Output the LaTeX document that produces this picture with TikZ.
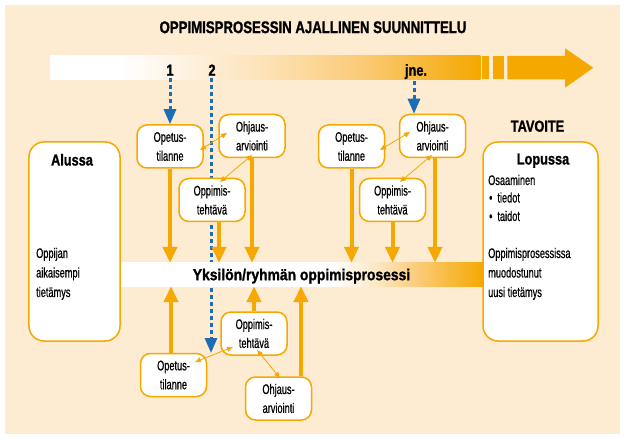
\documentclass[tikz,border=0pt]{standalone}
\usepackage{fontspec}
\setmainfont{Liberation Sans}
\newfontfamily\bodyf[FakeStretch=0.66,FakeBold=0.6]{Liberation Sans}
\newfontfamily\headf[FakeStretch=0.8,FakeBold=1.2]{Liberation Sans}
\newfontfamily\titlef[FakeStretch=0.78,FakeBold=1.2]{Liberation Sans}
\newfontfamily\procf[FakeStretch=0.87,FakeBold=1.2]{Liberation Sans}
\usetikzlibrary{arrows.meta,calc,backgrounds}
\definecolor{bgc}{RGB}{253,235,210}
\definecolor{org}{RGB}{245,168,0}
\definecolor{blu}{RGB}{27,109,181}
\definecolor{pk0}{RGB}{254,243,228}
\definecolor{pk1}{RGB}{253,226,182}
\definecolor{pk2}{RGB}{251,203,120}
\definecolor{pk3}{RGB}{253,232,200}
\pgfdeclarehorizontalshading{topbarsh}{100bp}{color(0bp)=(white); color(25bp)=(white); color(33bp)=(white); color(40bp)=(pk0); color(50bp)=(pk1); color(61bp)=(pk2); color(75bp)=(org); color(100bp)=(org)}
\pgfdeclarehorizontalshading{procsh}{100bp}{color(0bp)=(white); color(25bp)=(white); color(54bp)=(white); color(60bp)=(pk3); color(66bp)=(pk2); color(75bp)=(org); color(100bp)=(org)}
\tikzset{
  box/.style={draw=org, line width=1.5bp, fill=white, rounded corners=10bp,
    minimum width=66bp, minimum height=43bp, inner sep=0pt, align=center,
    font=\bodyf\fontsize{14}{19}\selectfont},
  bigbox/.style={draw=org, line width=1.5bp, fill=white, rounded corners=15bp, inner sep=0pt},
  bodytxt/.style={inner sep=0pt, anchor=base west, font=\bodyf\fontsize{14}{19}\selectfont},
  headtxt/.style={inner sep=0pt, anchor=base, font=\headf\bfseries\fontsize{16}{19}\selectfont},
  bigarrow/.style={draw=org, line width=4bp, -{Triangle[width=14bp,length=16bp]}},
  twoway/.style={draw=org, line width=0.8bp, {Triangle[width=5bp,length=6bp]}-{Triangle[width=5bp,length=6bp]}},
  bluedash/.style={draw=blu, line width=3bp, dash pattern=on 4bp off 3bp, -{Triangle[width=12bp,length=15bp]}},
}
\begin{document}
\begin{tikzpicture}[x=1bp,y=-1bp]
\useasboundingbox (0,0) rectangle (627,441);
% process bar
\node[shade, shading=procsh, inner sep=0pt, minimum width=363bp, minimum height=23bp, anchor=west] (P) at (120,274.5) {};
\node[inner sep=0pt, anchor=base, font=\procf\bfseries\fontsize{16}{19}\selectfont] (Ptxt) at (301.5,280.2) {Yksilön/ryhmän oppimisprosessi};
% title and timeline labels
\node[inner sep=0pt, anchor=base, font=\titlef\bfseries\fontsize{17}{20}\selectfont] (title) at (313,33.1) {OPPIMISPROSESSIN AJALLINEN SUUNNITTELU};
\node[headtxt] (n1) at (170,75.7) {1};
\node[headtxt] (n2) at (212,75.7) {2};
\node[headtxt] (n3) at (416,75.7) {jne.};
\coordinate (t2) at (211,353);
% big boxes
\node[bigbox, minimum width=91bp, minimum height=199bp] (AL) at (74.5,241.5) {};
\node[bigbox, minimum width=115bp, minimum height=199bp] (LO) at (540.5,241.5) {};
\node[headtxt] (tav) at (537.5,131.7) {TAVOITE};
\node[headtxt] (alh) at (72,165.5) {Alussa};
\node[headtxt] (loh) at (543,164.5) {Lopussa};
\node[bodytxt] (al1) at (36,258) {Oppijan};
\node[bodytxt] (al2) at (36,277.5) {aikaisempi};
\node[bodytxt] (al3) at (36,297) {tietämys};
\node[bodytxt] (lo1) at (488,185) {Osaaminen};
\node[bodytxt] (lo2) at (489,202.5) {\textbullet\hspace{5bp}tiedot};
\node[bodytxt] (lo3) at (489,221) {\textbullet\hspace{5bp}taidot};
\node[bodytxt] (lo4) at (488,258) {Oppimisprosessissa};
\node[bodytxt] (lo5) at (488,277.5) {muodostunut};
\node[bodytxt] (lo6) at (488,297) {uusi tietämys};
% small boxes, top left
\node[box] (A1) at (170,146.5) {Opetus-\\tilanne};
\node[box] (B1) at (252,136) {Ohjaus-\\arviointi};
\node[box] (C1) at (212,200) {Oppimis-\\tehtävä};
% top right
\node[box] (A2) at (351.5,146.5) {Opetus-\\tilanne};
\node[box] (B2) at (432.5,136) {Ohjaus-\\arviointi};
\node[box] (C2) at (392.5,200) {Oppimis-\\tehtävä};
% bottom
\node[box] (C3) at (254,333.5) {Oppimis-\\tehtävä};
\node[box] (A3) at (173.5,375) {Opetus-\\tilanne};
\node[box] (B3) at (278.5,398.5) {Ohjaus-\\arviointi};
% thick arrows
\coordinate (c1a) at ($(C1.south)+(7,0)$);
\coordinate (b2a) at ($(B2.south)+(2.5,0)$);
\coordinate (a3a) at ($(A3.north)+(-2.5,0)$);
\coordinate (b3a) at ($(B3.north)+(22.5,0)$);
\coordinate (j3) at ($(n3.south)+(-2,2)$);
\draw[bigarrow] (A1.south) -- (A1.south |- P.north);
\draw[bigarrow] (c1a) -- (c1a |- P.north);
\draw[bigarrow] (B1.south) -- (B1.south |- P.north);
\draw[bigarrow] (A2.south) -- (A2.south |- P.north);
\draw[bigarrow] (C2.south) -- (C2.south |- P.north);
\draw[bigarrow] (b2a) -- (b2a |- P.north);
\draw[bigarrow] (a3a) -- (a3a |- P.south);
\draw[bigarrow] (C3.north) -- (C3.north |- P.south);
\draw[bigarrow] (b3a) -- (b3a |- P.south);
% thin two-way arrows
\draw[twoway] ([shift={(30,3.5)}]A1.center) -- ([shift={(-25,-3)}]B1.center);
\draw[twoway] ([shift={(0,19)}]B1.center) -- ([shift={(8,-18)}]C1.center);
\draw[twoway] ([shift={(28.5,3.5)}]A2.center) -- ([shift={(-22.5,-4)}]B2.center);
\draw[twoway] ([shift={(-0.5,19)}]B2.center) -- ([shift={(7.5,-18)}]C2.center);
\draw[twoway] ([shift={(21.5,-13)}]A3.center) -- ([shift={(-21,13.5)}]C3.center);
\draw[twoway] ([shift={(3,16.5)}]C3.center) -- ([shift={(1.5,-20.5)}]B3.center);
% background layer
\begin{pgfonlayer}{background}
\fill[bgc] (5,5) rectangle (620,434);
\shade[shading=topbarsh] (50,56) rectangle (480.3,79.3);
\fill[org] (481.7,56) rectangle (489.3,79.3);
\fill[org] (493.3,56) rectangle (504,79.3);
\fill[org] (507.3,56) -- (565,56) -- (565,48.3) -- (593.3,67.8) -- (565,87.7) -- (565,79.3) -- (507.3,79.3) -- cycle;
\draw[bluedash] (n1.south) ++(0,2) -- (A1.north);
\draw[bluedash] (n2.south) ++(-1,2) -- (t2);
\draw[bluedash] (j3) -- (j3 |- B2.north);
\end{pgfonlayer}
\end{tikzpicture}
\end{document}
